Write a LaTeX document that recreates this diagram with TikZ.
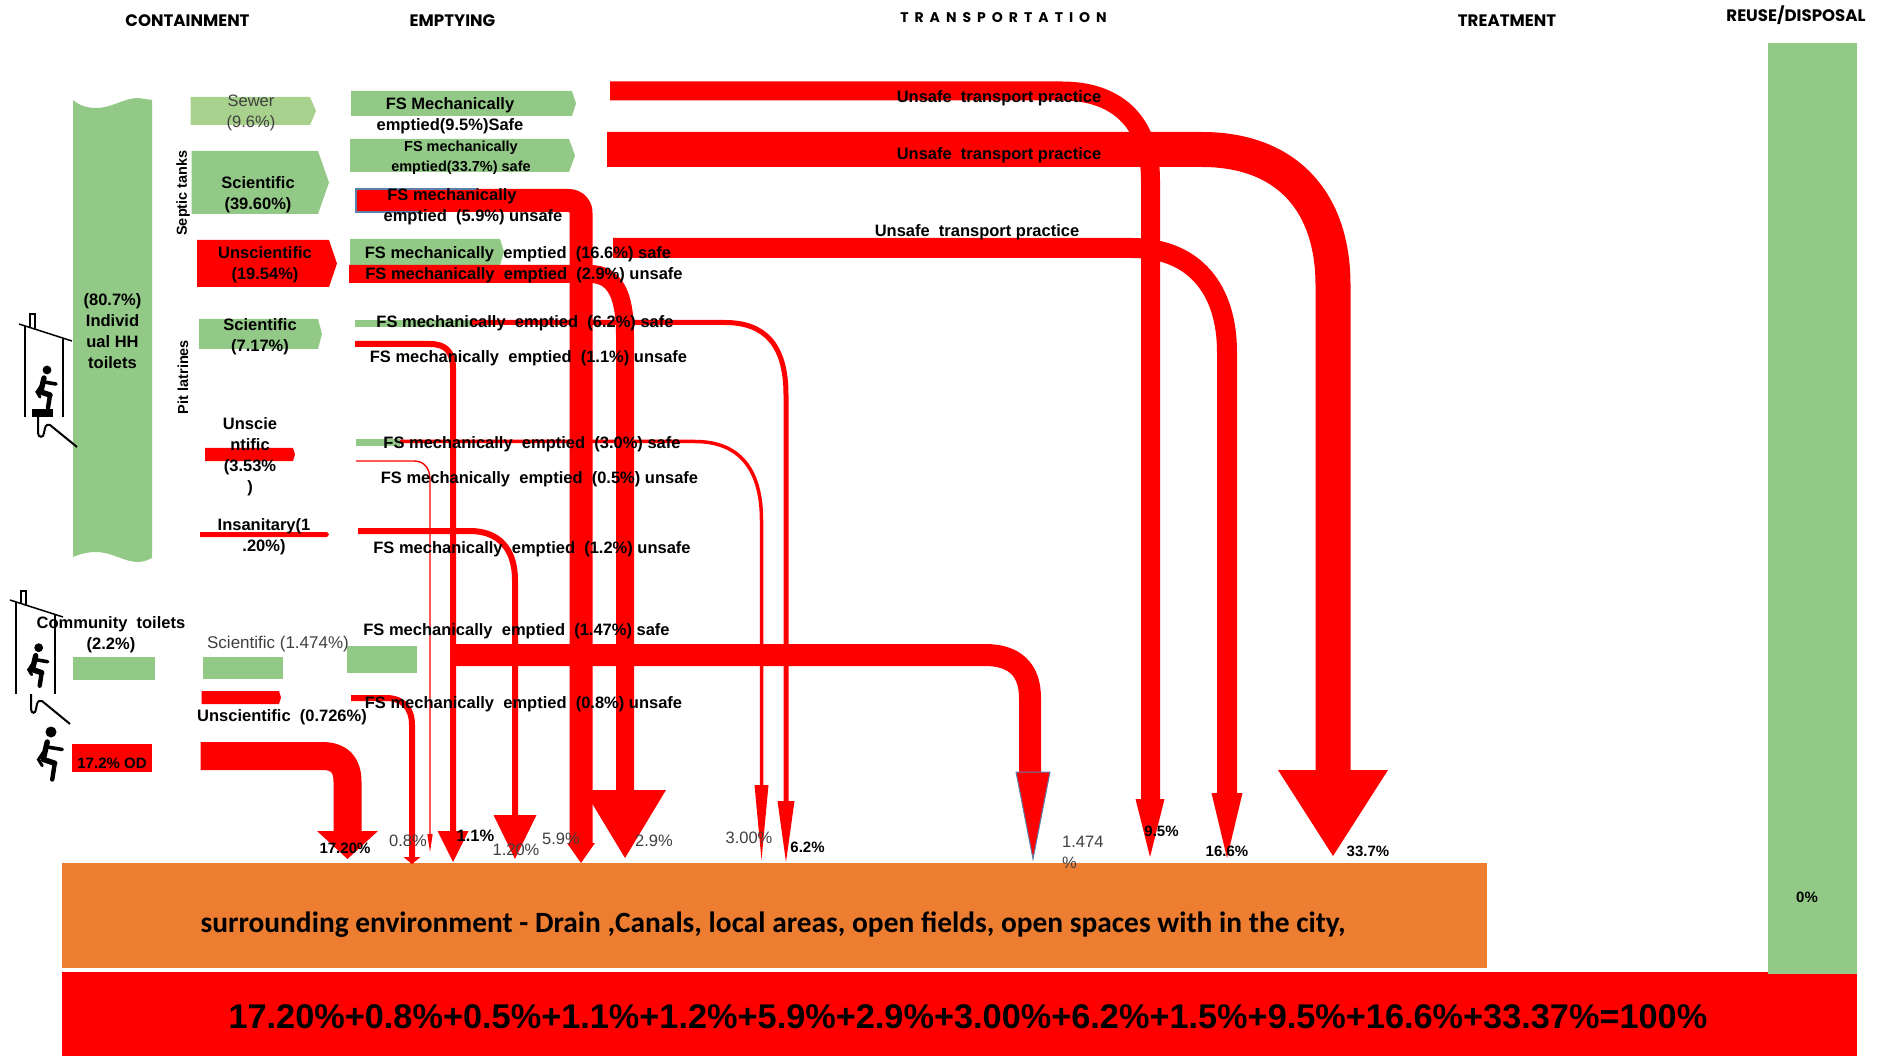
\documentclass[tikz,border=0pt]{standalone}
\usepackage{fontspec}
\setmainfont{Liberation Sans}
\newfontfamily\calib{Carlito}
\newfontfamily\hdr{Poppins}
\newfontfamily\hdrsp[LetterSpace=43]{Poppins}
\usetikzlibrary{calc}
\definecolor{grn}{HTML}{93C987}
\definecolor{lgrn}{HTML}{A9D18E}
\definecolor{org}{HTML}{ED7D31}
\definecolor{rd}{HTML}{FF0000}
\definecolor{gry}{HTML}{404040}
\definecolor{blu}{HTML}{5B7FA8}
\newcommand{\fsz}[2]{\fontsize{#1}{#2}\selectfont}
\tikzset{
  x=1pt,y=-1pt,
  lab/.style={inner sep=0pt,align=center,text=black,font=\bfseries\fsz{16.5}{21},yshift=-1.6pt},
  plain/.style={inner sep=0pt,align=center,text=gry,font=\fsz{16.5}{21},yshift=-2.2pt},
  pct/.style={inner sep=0pt,align=center,text=gry,font=\fsz{16.5}{21},yshift=-0.5pt},
  bpct/.style={inner sep=0pt,align=center,text=black,font=\bfseries\fsz{15}{20}},
  head/.style={inner sep=0pt,text=black,font=\hdr\bfseries\fsz{16.6}{18},yshift=-0.5pt},
  flow/.style={draw=rd,line join=round},
  tip/.style={fill=rd},
  wall/.style={draw=black,line width=1.3pt},
  squatter/.pic={
    \fill[black] (0,0) circle (4.4);
    \draw[black,line width=5.4pt,line cap=round] (-3,8) -- (-6,21);
    \draw[black,line width=3.6pt,line cap=round] (-3,12) -- (9,14);
    \draw[black,line width=5.5pt,line cap=round] (-6,22) -- (3,25);
    \draw[black,line width=4.4pt,line cap=round] (3,25) -- (1,38);
    \draw[black,line width=3pt,line cap=round] (-6,16) -- (-10,22) -- (-7,27);
  }
}
\begin{document}
\begin{tikzpicture}
\useasboundingbox (0,0) rectangle (1880,1056);
\fill[white] (0,0) rectangle (1880,1056);

% base panels
\fill[org] (62,863) rectangle (1487,968);
\fill[rd] (62,972) rectangle (1857,1056);
\fill[grn] (1768,43) rectangle (1857,974);

% containment shapes
\fill[grn] (73,100) .. controls (80,106) and (88,108) .. (96,108) .. controls (112,108) and (124,98) .. (138,98) -- (152,100) -- (152,558) .. controls (146,561) and (142,562) .. (138,562) .. controls (124,562) and (112,552) .. (96,552) .. controls (88,552) and (80,554) .. (73,557) -- cycle;
\fill[lgrn] (190.5,97) -- (310,97) -- (316,111) -- (310,125) -- (190.5,125) -- cycle;
\fill[grn] (191.5,151) -- (318,151) -- (329,182.5) -- (318,214) -- (191.5,214) -- cycle;
\fill[rd] (197,240) -- (329,240) -- (337,263.5) -- (329,287) -- (197,287) -- cycle;
\fill[grn] (199,319) -- (318,319) -- (322,334) -- (318,349) -- (199,349) -- cycle;
\fill[rd] (205,448) -- (293,448) -- (295,454.5) -- (293,461) -- (205,461) -- cycle;
\fill[rd] (200,532) -- (327,532) -- (329,534.5) -- (327,537) -- (200,537) -- cycle;
\fill[grn] (73,657) rectangle (155,680);
\fill[grn] (202.5,657) rectangle (283,679);
\fill[rd] (201.5,691) -- (279,691) -- (281,697.5) -- (279,704) -- (201.5,704) -- cycle;
\fill[rd] (72,744) rectangle (152,772);

% emptying shapes
\fill[grn] (351,91) -- (572,91) -- (576,103.5) -- (572,116) -- (351,116) -- cycle;
\fill[grn] (350,139) -- (569,139) -- (575,155.5) -- (569,172) -- (350,172) -- cycle;
\fill[grn] (350,239) -- (500,239) -- (504,252) -- (500,265) -- (350,265) -- cycle;
\fill[grn] (355,320) rectangle (470,327);
\fill[grn] (356,439) rectangle (400,446);
\fill[grn] (347,646) rectangle (417,673);

% flow end points
\coordinate (aOD) at (200.5,756);   \coordinate (zOD) at (347.5,859);
\coordinate (a08) at (351,698);     \coordinate (z08) at (412,864);
\coordinate (a05) at (356,461);     \coordinate (z05) at (430,852);
\coordinate (a11) at (355,344);     \coordinate (z11) at (453,862);
\coordinate (a12) at (358,531);     \coordinate (z12) at (515,859);
\coordinate (a59) at (356,200.5);   \coordinate (z59) at (581,863);
\coordinate (a29) at (349,274);     \coordinate (z29) at (625,858);
\coordinate (a30) at (400,441.5);   \coordinate (z30) at (761.5,860);
\coordinate (a62) at (470,322.5);   \coordinate (z62) at (786,862);
\coordinate (a15) at (452,655);     \coordinate (z15) at (1033,859);
\coordinate (a95) at (610,91);      \coordinate (z95) at (1150,857);
\coordinate (a166) at (613,248);    \coordinate (z166) at (1227,858);
\coordinate (a337) at (607,149.5);  \coordinate (z337) at (1333,856);

% flows
\draw[flow,line width=28pt] (aOD) -- (322,756) .. controls (340,756) and (347.5,765) .. (347.5,782) -- (347.5,835);
\fill[tip] (zOD) -- ++(-30.5,-28) -- ++(61,0) -- cycle;
\draw[flow,line width=6pt] (a08) -- (386,698) .. controls (403,698) and (412,708) .. (412,725) -- (412,858);
\fill[tip] (z08) -- ++(-8.5,-7) -- ++(17,0) -- cycle;
\draw[flow,line width=1.4pt] (a05) -- (414,461) .. controls (424,461) and (430,468) .. (430,480) -- (430,836);
\fill[tip] (z05) -- ++(-2.7,-18) -- ++(5.4,0) -- cycle;
\draw[flow,line width=6pt] (a11) -- (430,344) .. controls (446,344) and (453,352) .. (453,368) -- (453,835);
\fill[tip] (z11) -- ++(-15.5,-31) -- ++(31,0) -- cycle;
\draw[flow,line width=6pt] (a12) -- (470,531) .. controls (498,531) and (515,548) .. (515,580) -- (515,818);
\fill[tip] (z12) -- ++(-21.5,-44) -- ++(43,0) -- cycle;
\draw[flow,line width=23pt,line join=round] (a59) -- (568,200.5) .. controls (576,200.5) and (581,205) .. (581,213) -- (581,845);
\fill[tip] (z59) -- ++(-14,-20) -- ++(28,0) -- cycle;
\draw[flow,line width=18pt] (a29) -- (590,274) .. controls (615,274) and (625,295) .. (625,335) -- (625,795);
\fill[tip] (z29) -- ++(-41,-68) -- ++(82,0) -- cycle;
\draw[flow,line width=3.5pt] (a30) -- (695,441.5) .. controls (740,441.5) and (761.5,470) .. (761.5,520) -- (761.5,790);
\fill[tip] (z30) -- ++(-7,-75) -- ++(14,0) -- cycle;
\draw[flow,line width=5pt] (a62) -- (725,322.5) .. controls (765,322.5) and (786,345) .. (786,395) -- (786,805);
\fill[tip] (z62) -- ++(-8.5,-61) -- ++(17,0) -- cycle;
\draw[flow,line width=22pt] (a15) -- (985,655) .. controls (1015,655) and (1030,670) .. (1030,698) -- (1030,775);
\fill[tip,draw=blu,line width=1pt] (z15) -- ++(-17,-87) -- ++(34,0) -- cycle;
\draw[flow,line width=19pt] (a95) -- (1062,91) .. controls (1115,91) and (1150.5,120) .. (1150.5,180) -- (1150.5,802);
\fill[tip] (z95) -- ++(-14.5,-58) -- ++(29,0) -- cycle;
\draw[flow,line width=20pt] (a166) -- (1132,248) .. controls (1195,248) and (1227,290) .. (1227,352) -- (1227,796);
\fill[tip] (z166) -- ++(-15.5,-65) -- ++(31,0) -- cycle;
\draw[flow,line width=35pt] (a337) -- (1202,149.5) .. controls (1285,149.5) and (1333,200) .. (1333,285) -- (1333,773);
\fill[tip] (z337) -- ++(-55,-86) -- ++(110,0) -- cycle;
\draw[blu,line width=1.5pt] (476,189) -- (356,189) -- (356,212) -- (420,212);

% toilet 1
\draw[wall,line width=1.5pt] (19,324) -- (72,341);
\draw[wall] (30,328) -- (30,314) -- (35,314) -- (35,329);
\draw[wall] (25,326) -- (25,417);
\draw[wall] (63,339) -- (63,417);
\fill[black] (32,409) rectangle (53,417);
\pic (pA) at (47,370) {squatter};
\draw[wall,line width=2pt] (38,417) -- (38,433) .. controls (38,438) and (44,438) .. (44,433) -- (45,428) .. controls (46,425) and (48,424) .. (50,425) -- (77,447);
% toilet 2
\draw[wall,line width=1.5pt] (10,600) -- (63,617);
\draw[wall] (21,604) -- (21,591) -- (26,591) -- (26,606);
\draw[wall] (16,602) -- (16,694);
\draw[wall] (55,615) -- (55,694);
\pic (pB) at (38.7,647.7) {squatter};
\draw[wall,line width=2pt] (31,694) -- (31,709) .. controls (31,714) and (36,714) .. (36,709) -- (37,704) .. controls (38,701) and (40,700) .. (42,701) -- (70,724);
% open defecation person
\pic[scale=1.25,line width=1.25pt] (pC) at (51,732) {squatter};

% headings
\node[head] (hCon) at (187.5,20) {CONTAINMENT};
\node[head] (hEmp) at (452.5,20) {EMPTYING};
\node[inner sep=0pt,font=\hdrsp\bfseries\fsz{14}{16}] (hTra) at (1003.5,18) {TRANSPORTATION};
\node[head] (hTre) at (1507,20.5) {TREATMENT};
\node[head] (hReu) at (1796,15) {REUSE/DISPOSAL};

% containment labels
\node[lab] (tHH) at (112.5,330) {(80.7\%)\\Individ\\ual HH\\toilets};
\node[inner sep=0pt,font=\bfseries\fsz{14.5}{16},rotate=90] (tSep) at (183,193) {Septic tanks};
\node[inner sep=0pt,font=\bfseries\fsz{14.5}{16},rotate=90] (tPit) at (183,377) {Pit latrines};
\node[plain] (tSew) at (251,111) {Sewer\\(9.6\%)};
\node[lab] (tSci) at (258,193) {Scientific\\(39.60\%)};
\node[lab] (tUns) at (265,263.5) {Unscientific\\(19.54\%)};
\node[lab] (tSci2) at (260,335) {Scientific\\(7.17\%)};
\node[lab] (tUns2) at (250,455) {Unscie\\ntific\\(3.53\%\\)};
\node[lab] (tIns) at (264,535.5) {Insanitary(1\\.20\%)};
\node[lab] (tCom) at (111,633.5) {Community\ \ toilets\\(2.2\%)};
\node[plain,font=\fsz{17}{21}] (tSci3) at (278,642) {Scientific (1.474\%)};
\node[lab] (tUns3) at (282,716) {Unscientific\ \ (0.726\%)};
\node[lab,font=\bfseries\fsz{15}{18}] (tOD) at (112,762) {17.2\% OD};

% emptying labels
\node[lab] (e1) at (450,114.5) {FS Mechanically\\emptied(9.5\%)Safe};
\node[lab,font=\bfseries\fsz{14.5}{20}] (e2) at (461,156) {FS mechanically\\emptied(33.7\%) safe};
\node[lab] (e3) at (473,205) {\hspace*{-42pt}FS mechanically\\emptied\ \ (5.9\%) unsafe};
\node[lab] (e4) at (518,253) {FS mechanically\ \ emptied\ \ (16.6\%) safe};
\node[lab] (e5) at (524,274) {FS mechanically\ \ emptied\ \ (2.9\%) unsafe};
\node[lab] (e6) at (525,322) {FS mechanically\ \ emptied\ \ (6.2\%) safe};
\node[lab] (e7) at (528.5,357) {FS mechanically\ \ emptied\ \ (1.1\%) unsafe};
\node[lab] (e8) at (532,443) {FS mechanically\ \ emptied\ \ (3.0\%) safe};
\node[lab] (e9) at (539.5,478) {FS mechanically\ \ emptied\ \ (0.5\%) unsafe};
\node[lab] (e10) at (532,548) {FS mechanically\ \ emptied\ \ (1.2\%) unsafe};
\node[lab] (e11) at (516.5,630) {FS mechanically\ \ emptied\ \ (1.47\%) safe};
\node[lab] (e12) at (523.5,703) {FS mechanically\ \ emptied\ \ (0.8\%) unsafe};

% transport labels
\node[lab] (u1) at (999,97) {Unsafe\ \ transport practice};
\node[lab] (u2) at (999,154) {Unsafe\ \ transport practice};
\node[lab] (u3) at (977,231) {Unsafe\ \ transport practice};

% percent labels
\node[bpct] (p1) at (345,848) {17.20\%};
\node[pct] (p2) at (408,840) {0.8\%};
\node[bpct,font=\bfseries\fsz{16.5}{20}] (p3) at (475.5,836) {1.1\%};
\node[pct] (p4) at (516,849) {1.20\%};
\node[pct] (p5) at (561,838) {5.9\%};
\node[pct] (p6) at (654,840) {2.9\%};
\node[pct] (p7) at (749,837) {3.00\%};
\node[bpct] (p8) at (807.5,847) {6.2\%};
\node[pct,anchor=north west,align=left] (p9) at (1062,835) {1.474\\\%};
\node[bpct] (p10) at (1161.5,831) {9.5\%};
\node[bpct] (p11) at (1227,851) {16.6\%};
\node[bpct] (p12) at (1368,851) {33.7\%};
\node[bpct] (p13) at (1807,897) {0\%};

% bottom
\node[inner sep=0pt,font=\calib\bfseries\fsz{29.4}{32},yshift=-2pt] (env) at (773,923) {surrounding environment - Drain ,Canals, local areas, open fields, open spaces with in the city,};
\node[inner sep=0pt,font=\bfseries\fsz{34.3}{40}] (sum) at (968,1017) {17.20\%+0.8\%+0.5\%+1.1\%+1.2\%+5.9\%+2.9\%+3.00\%+6.2\%+1.5\%+9.5\%+16.6\%+33.37\%=100\%};
\end{tikzpicture}
\end{document}
